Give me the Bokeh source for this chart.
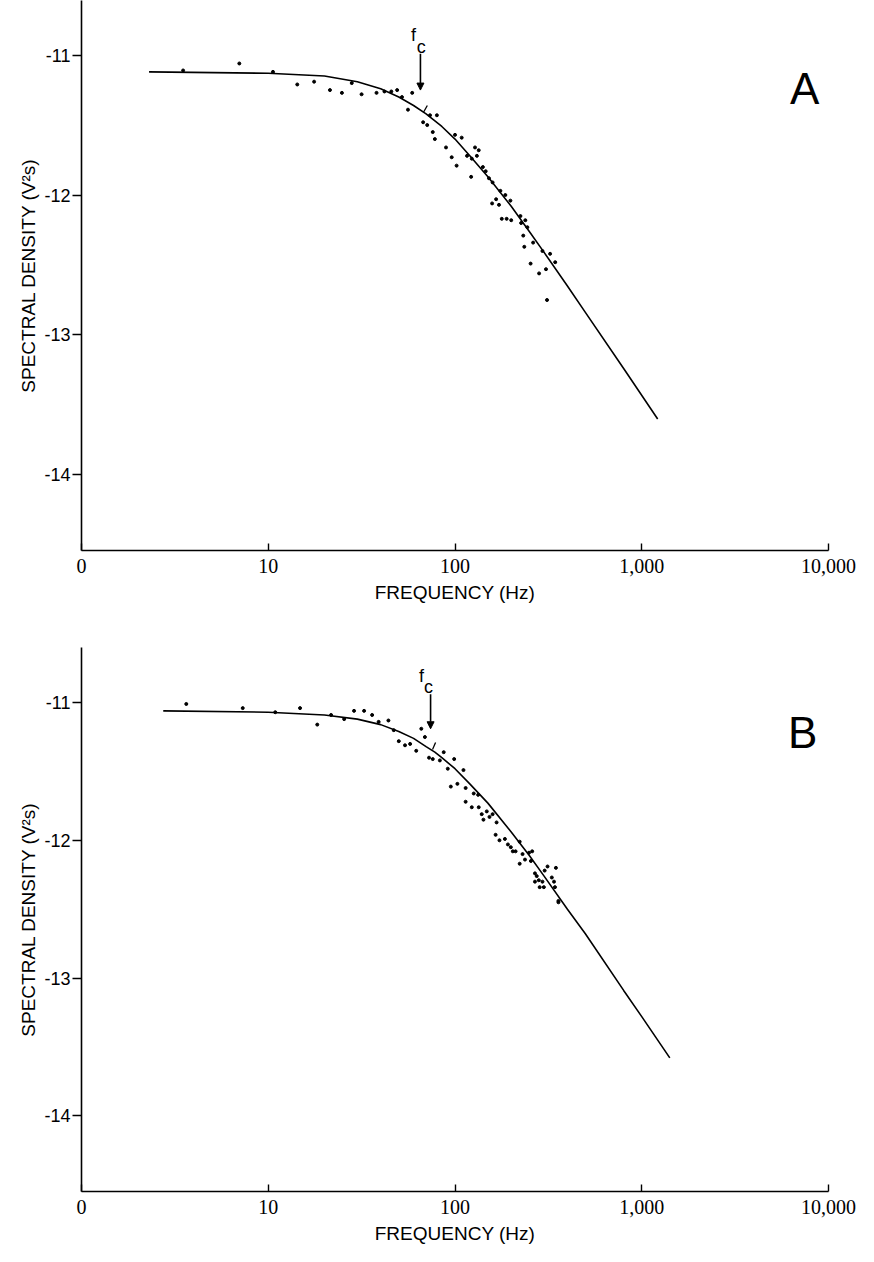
from bokeh.plotting import figure
from bokeh.layouts import column
from bokeh.models import FixedTicker, Arrow, NormalHead, Label
from bokeh.embed import file_html
from bokeh.resources import INLINE

# ---------------- data ----------------
x_ticks = [1, 10, 100, 1000, 10000]
x_tick_labels = ["0", "10", "100", "1,000", "10,000"]
y_ticks = [-14, -13, -12, -11]
y_tick_labels = ["-14", "-13", "-12", "-11"]

# Panel A: fitted curve and measured points
curve_a_f = [2.3, 10, 20, 30, 40, 50, 60, 70, 85, 100, 120, 150, 200, 250, 300, 400, 500, 800, 1217]
curve_a_s = [-11.12, -11.13, -11.15, -11.19, -11.24, -11.30, -11.36, -11.42, -11.51, -11.60, -11.72,
             -11.87, -12.08, -12.26, -12.41, -12.65, -12.84, -13.24, -13.60]
pts_a_f = [3.5, 7.0, 10.6, 14.3, 17.6, 21.4, 24.8, 28, 31.6, 38,
           41.9, 45.6, 49, 52, 59, 56, 67.5, 71, 73.5, 80,
           76, 78, 89.5, 100, 108.6, 96, 102, 116, 123, 128,
           134, 131, 122, 141, 146, 152, 159, 175, 186, 166,
           158, 172, 198, 178, 189, 200, 224, 238, 226, 244,
           232, 235, 262, 294, 323, 344, 254, 307, 282, 311]
pts_a_s = [-11.11, -11.06, -11.12, -11.21, -11.19, -11.25, -11.27, -11.20, -11.28, -11.27,
           -11.26, -11.26, -11.25, -11.30, -11.27, -11.39, -11.48, -11.50, -11.43, -11.43,
           -11.55, -11.60, -11.66, -11.57, -11.59, -11.73, -11.79, -11.72, -11.74, -11.66,
           -11.68, -11.72, -11.87, -11.80, -11.83, -11.88, -11.91, -11.97, -12.00, -12.03,
           -12.06, -12.07, -12.04, -12.17, -12.17, -12.18, -12.15, -12.18, -12.20, -12.23,
           -12.29, -12.37, -12.34, -12.40, -12.42, -12.48, -12.49, -12.53, -12.56, -12.75]
fc_a = 65.3

# Panel B
curve_b_f = [2.74, 10, 20, 30, 40, 50, 60, 70, 78, 85, 100, 120, 150, 200, 250, 300, 400, 500, 800, 1000, 1413]
curve_b_s = [-11.06, -11.07, -11.09, -11.12, -11.16, -11.21, -11.26, -11.32, -11.36, -11.40, -11.48,
             -11.59, -11.73, -11.94, -12.11, -12.26, -12.50, -12.68, -13.09, -13.28, -13.58]
pts_b_f = [3.64, 7.3, 10.9, 14.8, 18.3, 21.7, 25.5, 28.8, 32.6,
           36, 39, 44, 47, 50, 54, 57.5, 62, 66, 69,
           72.6, 76, 83, 87, 91.5, 99, 95, 103, 111, 114,
           114, 123, 126, 133, 134, 139, 142, 148, 153, 159,
           167, 165, 173, 185, 192, 199, 204, 211, 222, 230,
           222, 237, 249, 259, 255, 268, 274, 281, 268, 284,
           299, 294, 302, 313, 330, 339, 347, 343, 358, 358]
pts_b_s = [-11.01, -11.04, -11.07, -11.04, -11.16, -11.09, -11.12, -11.06, -11.06,
           -11.09, -11.14, -11.13, -11.20, -11.28, -11.31, -11.30, -11.35, -11.19, -11.25,
           -11.40, -11.41, -11.42, -11.36, -11.48, -11.41, -11.61, -11.59, -11.49, -11.62,
           -11.72, -11.76, -11.66, -11.67, -11.76, -11.81, -11.85, -11.79, -11.83, -11.81,
           -11.87, -11.96, -12.00, -11.99, -12.03, -12.05, -12.08, -12.08, -12.01, -12.10,
           -12.17, -12.14, -12.09, -12.08, -12.15, -12.24, -12.26, -12.29, -12.30, -12.34,
           -12.34, -12.30, -12.22, -12.19, -12.27, -12.30, -12.20, -12.34, -12.44, -12.45]
fc_b = 74


def make_panel(height, yr, border_left, border_right, border_top, border_bottom):
    p = figure(width=858, height=height, x_axis_type="log", x_range=(1, 10000), y_range=yr,
               output_backend="svg", toolbar_location=None,
               min_border_left=border_left, min_border_right=border_right,
               min_border_top=border_top, min_border_bottom=border_bottom)
    p.outline_line_color = None
    p.xgrid.visible = False
    p.ygrid.visible = False
    p.background_fill_color = "white"
    p.border_fill_color = "white"

    xa = p.xaxis[0]
    xa.ticker = FixedTicker(ticks=x_ticks)
    xa.major_label_overrides = {t: l for t, l in zip(x_ticks, x_tick_labels)}
    xa.minor_tick_line_color = None
    xa.major_tick_in = 7
    xa.major_tick_out = 0
    xa.axis_line_width = 1.6
    xa.major_tick_line_width = 1.4
    xa.axis_line_color = "black"
    xa.major_tick_line_color = "black"
    xa.major_label_text_font = "Liberation Sans Narrow"
    xa.major_label_text_font_size = "20px"
    xa.major_label_text_color = "black"
    xa.major_label_standoff = 8
    xa.axis_label = "FREQUENCY (Hz)"
    xa.axis_label_text_font = "Liberation Sans"
    xa.axis_label_text_font_style = "normal"
    xa.axis_label_text_font_size = "19px"
    xa.axis_label_text_color = "black"
    xa.axis_label_standoff = 6

    ya = p.yaxis[0]
    ya.ticker = FixedTicker(ticks=y_ticks)
    ya.major_label_overrides = {t: l for t, l in zip(y_ticks, y_tick_labels)}
    ya.minor_tick_line_color = None
    ya.major_tick_in = 0
    ya.major_tick_out = 9
    ya.axis_line_width = 1.6
    ya.major_tick_line_width = 1.4
    ya.axis_line_color = "black"
    ya.major_tick_line_color = "black"
    ya.major_label_text_font = "Liberation Sans"
    ya.major_label_text_font_size = "18px"
    ya.major_label_text_color = "black"
    ya.major_label_standoff = 2
    ya.axis_label = "SPECTRAL DENSITY (V²s)"
    ya.axis_label_text_font = "Liberation Sans"
    ya.axis_label_text_font_style = "normal"
    ya.axis_label_text_font_size = "19px"
    ya.axis_label_text_color = "black"
    ya.axis_label_standoff = 2
    return p


def decorate(p, cf, cs, pf, ps, fc, arrow_top, arrow_tip, f_pos, c_pos, tick_seg, letter, letter_pos):
    p.line(cf, cs, line_color="black", line_width=1.6)
    p.scatter(pf, ps, size=3, marker="circle", fill_color="black", line_color="black")
    p.add_layout(Arrow(end=NormalHead(size=7, fill_color="black", line_color="black"),
                       x_start=fc, y_start=arrow_top, x_end=fc, y_end=arrow_tip,
                       line_color="black", line_width=1.6))
    p.add_layout(Label(x=f_pos[0], y=f_pos[1], text="f", text_font="Liberation Sans",
                       text_font_size="18px", text_align="center", text_baseline="middle",
                       text_color="black"))
    p.add_layout(Label(x=c_pos[0], y=c_pos[1], text="c", text_font="Liberation Sans",
                       text_font_size="18px", text_align="center", text_baseline="middle",
                       text_color="black"))
    p.line(tick_seg[0], tick_seg[1], line_color="black", line_width=1.3)
    p.add_layout(Label(x=letter_pos[0], y=letter_pos[1], text=letter, text_font="Liberation Sans",
                       text_font_size="44px", text_align="center", text_baseline="middle",
                       text_color="black"))


pA = make_panel(640, (-14.54, -10.61), 72, 30, 0, 90)
decorate(pA, curve_a_f, curve_a_s, pts_a_f, pts_a_s, fc_a, -10.99, -11.25,
         (60, -10.86), (66, -10.94), ([67.7, 71.1], [-11.41, -11.36]), "A", (7465, -11.24))

pB = make_panel(606, (-14.55, -10.60), 81, 28, 7, 46)
decorate(pB, curve_b_f, curve_b_s, pts_b_f, pts_b_s, fc_b, -10.94, -11.19,
         (66.2, -10.81), (72.2, -10.89), ([75.8, 78.7], [-11.34, -11.29]), "B", (7265, -11.22))

layout = column(pA, pB, spacing=0)
open("out.html", "w").write(file_html(layout, INLINE))
